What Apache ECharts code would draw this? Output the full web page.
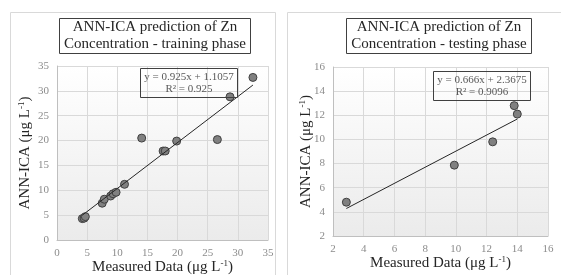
<!DOCTYPE html>
<html>
<head>
<meta charset="utf-8">
<script src="https://cdn.jsdelivr.net/npm/echarts@6/dist/echarts.min.js"></script>
<style>
  html, body { margin: 0; padding: 0; background: #fff; }
  #chart { width: 561px; height: 275px; }
</style>
</head>
<body>
<div id="chart"></div>
<script>
// training phase
const trainMeasured = [4.2, 4.5, 4.7, 7.5, 7.85, 8.9, 9.3, 9.8, 11.2, 14.05, 17.6, 17.95, 19.85, 26.6, 28.7, 32.5]
const trainPredicted = [4.3, 4.4, 4.7, 7.4, 8.2, 8.85, 9.3, 9.6, 11.2, 20.5, 17.9, 17.9, 19.9, 20.2, 28.8, 32.7]
const trainFit = [0.925, 1.1057]
const trainLabel = ['y = 0.925x + 1.1057', 'R² = 0.925']

// testing phase
const testMeasured = [2.87, 9.9, 12.4, 13.8, 14.0]
const testPredicted = [4.8, 7.87, 9.8, 12.8, 12.1]
const testFit = [0.666, 2.3675]
const testLabel = ['y = 0.666x + 2.3675', 'R² = 0.9096']

const FONT = '"Liberation Serif", "Times New Roman", serif'
const GRID_BG = {
  type: 'linear', x: 0, y: 0, x2: 0, y2: 1,
  colorStops: [{ offset: 0, color: '#ffffff' }, { offset: 1, color: '#ebebeb' }]
}

const pairs = (xs, ys) => xs.map((x, i) => [x, ys[i]])
const fitLine = (xs, fit) => {
  const lo = Math.min(...xs)
  const hi = Math.max(...xs)
  return [[lo, fit[0] * lo + fit[1]], [hi, fit[0] * hi + fit[1]]]
}

const axisName = {
  fontFamily: FONT, fontSize: 15, color: '#262626',
  rich: { sup: { fontFamily: FONT, fontSize: 9, color: '#262626', padding: [0, 0, 7, 0] } }
}

function valueAxis(gridIndex, min, max, step, name, gap) {
  return {
    type: 'value',
    gridIndex,
    min, max, interval: step,
    name,
    nameLocation: 'middle',
    nameGap: gap,
    nameMoveOverlap: false,
    nameTextStyle: axisName,
    axisLine: { show: true, lineStyle: { color: '#bfbfbf' } },
    axisTick: { show: false },
    axisLabel: { fontFamily: FONT, fontSize: 11, color: '#8c8c8c', margin: 8 },
    splitLine: { show: true, lineStyle: { color: '#d9d9d9' } }
  }
}

const chart = echarts.init(document.getElementById('chart'))
chart.setOption({
  animation: false,
  title: [
    {
      text: 'ANN-ICA prediction of Zn\nConcentration - training phase',
      left: 150, top: 18, textAlign: 'center',
      borderColor: '#404040', borderWidth: 1, padding: [1, 5],
      textStyle: { fontFamily: FONT, fontSize: 15, fontWeight: 'normal', color: '#262626', lineHeight: 17 }
    },
    {
      text: 'ANN-ICA prediction of Zn\nConcentration - testing phase',
      left: 434, top: 18, textAlign: 'center',
      borderColor: '#404040', borderWidth: 1, padding: [1, 5],
      textStyle: { fontFamily: FONT, fontSize: 15, fontWeight: 'normal', color: '#262626', lineHeight: 17 }
    },
    {
      text: trainLabel.join('\n'),
      left: 185, top: 68, textAlign: 'center',
      borderColor: '#404040', borderWidth: 1, padding: [3, 4],
      textStyle: { fontFamily: FONT, fontSize: 11, fontWeight: 'normal', color: '#595959', lineHeight: 12, align: 'center' }
    },
    {
      text: testLabel.join('\n'),
      left: 478, top: 71, textAlign: 'center',
      borderColor: '#404040', borderWidth: 1, padding: [3, 4],
      textStyle: { fontFamily: FONT, fontSize: 11, fontWeight: 'normal', color: '#595959', lineHeight: 12, align: 'center' }
    }
  ],
  graphic: [
    { type: 'rect', shape: { x: 10.5, y: 12.5, width: 265, height: 270 }, style: { fill: 'none', stroke: '#d9d9d9' }, z: -1 },
    { type: 'rect', shape: { x: 287.5, y: 12.5, width: 280, height: 270 }, style: { fill: 'none', stroke: '#d9d9d9' }, z: -1 }
  ],
  grid: [
    { left: 57, top: 66, width: 211, height: 174, show: true, backgroundColor: GRID_BG, borderWidth: 0, outerBoundsMode: 'none' },
    { left: 333, top: 67, width: 215, height: 169, show: true, backgroundColor: GRID_BG, borderWidth: 0, outerBoundsMode: 'none' }
  ],
  xAxis: [
    valueAxis(0, 0, 35, 5, 'Measured Data (μg L{sup|-1})', 19),
    valueAxis(1, 2, 16, 2, 'Measured Data (μg L{sup|-1})', 19)
  ],
  yAxis: [
    valueAxis(0, 0, 35, 5, 'ANN-ICA (μg L{sup|-1})', 24),
    valueAxis(1, 2, 16, 2, 'ANN-ICA (μg L{sup|-1})', 19)
  ],
  series: [
    {
      type: 'line', xAxisIndex: 0, yAxisIndex: 0,
      data: fitLine(trainMeasured, trainFit),
      symbol: 'none', lineStyle: { color: '#262626', width: 1 }, z: 3
    },
    {
      type: 'scatter', xAxisIndex: 0, yAxisIndex: 0,
      data: pairs(trainMeasured, trainPredicted),
      symbolSize: 8,
      itemStyle: { color: '#808080', borderColor: '#404040', borderWidth: 1, opacity: 1 },
      z: 2
    },
    {
      type: 'line', xAxisIndex: 1, yAxisIndex: 1,
      data: fitLine(testMeasured, testFit),
      symbol: 'none', lineStyle: { color: '#262626', width: 1 }, z: 3
    },
    {
      type: 'scatter', xAxisIndex: 1, yAxisIndex: 1,
      data: pairs(testMeasured, testPredicted),
      symbolSize: 8,
      itemStyle: { color: '#808080', borderColor: '#404040', borderWidth: 1, opacity: 1 },
      z: 2
    }
  ]
})
</script>
</body>
</html>
